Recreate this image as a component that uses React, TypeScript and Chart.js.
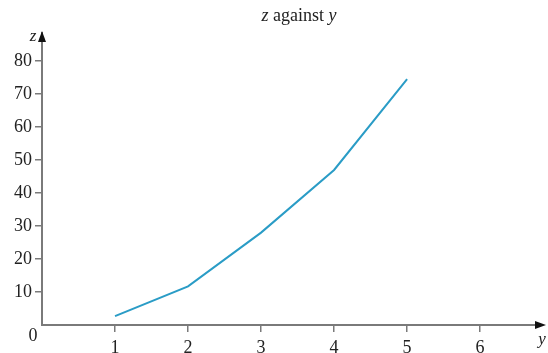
import React, { useEffect, useRef } from "react";
import { Chart, registerables } from "chart.js";

Chart.register(...registerables);

const yValues = [1, 2, 3, 4, 5];
const zValues = [2.7, 11.7, 28, 47, 74.5];
const xTickValues = [1, 2, 3, 4, 5, 6];
const yTickValues = [10, 20, 30, 40, 50, 60, 70, 80];
const titleParts = [
  { text: "z", italic: true },
  { text: " against ", italic: false },
  { text: "y", italic: true },
];

const AXIS_COLOR = "#7a7a7a";
const TEXT_COLOR = "#222";
const SERIF = "'Liberation Serif', 'DejaVu Serif', serif";
const TITLE_SIZE = 18;

const decorPlugin = {
  id: "decor",
  afterDraw(chart: any) {
    const ctx = chart.ctx as CanvasRenderingContext2D;
    const area = chart.chartArea;
    const xs = chart.scales.x;
    const ys = chart.scales.y;
    const x0 = xs.getPixelForValue(0);
    const y0 = ys.getPixelForValue(0);
    ctx.save();
    // title
    let total = 0;
    const widths = titleParts.map((p) => {
      ctx.font = `${p.italic ? "italic " : ""}${TITLE_SIZE}px ${SERIF}`;
      const w = ctx.measureText(p.text).width;
      total += w;
      return w;
    });
    let tx = 299 - total / 2;
    ctx.fillStyle = TEXT_COLOR;
    ctx.textBaseline = "middle";
    ctx.textAlign = "left";
    titleParts.forEach((p, i) => {
      ctx.font = `${p.italic ? "italic " : ""}${TITLE_SIZE}px ${SERIF}`;
      ctx.fillText(p.text, tx, 16);
      tx += widths[i];
    });
    // arrows
    ctx.fillStyle = "#111";
    ctx.beginPath();
    ctx.moveTo(x0, area.top - 2);
    ctx.lineTo(x0 - 4, area.top + 9);
    ctx.lineTo(x0 + 4, area.top + 9);
    ctx.closePath();
    ctx.fill();
    ctx.beginPath();
    ctx.moveTo(area.right + 6, y0);
    ctx.lineTo(area.right - 5, y0 - 4);
    ctx.lineTo(area.right - 5, y0 + 4);
    ctx.closePath();
    ctx.fill();
    // axis labels
    ctx.fillStyle = TEXT_COLOR;
    ctx.font = `italic 17px ${SERIF}`;
    ctx.textAlign = "center";
    ctx.fillText("z", x0 - 9, area.top + 4);
    ctx.fillText("y", area.right + 2, y0 + 15);
    ctx.font = `18px ${SERIF}`;
    ctx.fillText("0", x0 - 9, y0 + 11);
    ctx.restore();
  },
};

export default function App() {
  const ref = useRef<HTMLCanvasElement | null>(null);
  useEffect(() => {
    if (!ref.current) return;
    const chart = new Chart(ref.current, {
      type: "line",
      data: {
        datasets: [
          {
            data: yValues.map((v, i) => ({ x: v, y: zValues[i] })),
            borderColor: "#2a9cc6",
            borderWidth: 2,
            pointRadius: 0,
            tension: 0,
            fill: false,
          },
        ],
      },
      options: {
        animation: false,
        responsive: false,
        maintainAspectRatio: false,
        layout: { padding: { top: 33, right: 8, left: 0, bottom: 0 } },
        plugins: {
          legend: { display: false },
          title: { display: false },
          tooltip: { enabled: false },
        },
        scales: {
          x: {
            type: "linear",
            min: 0,
            max: 6.82,
            afterBuildTicks: (s: any) => {
              s.ticks = xTickValues.map((v) => ({ value: v }));
            },
            afterFit: (s: any) => {
              s.height = 28;
            },
            grid: {
              drawOnChartArea: false,
              drawTicks: true,
              tickLength: 7,
              color: AXIS_COLOR,
              lineWidth: 1.5,
            },
            border: { display: true, color: AXIS_COLOR, width: 2 },
            ticks: {
              color: TEXT_COLOR,
              font: { family: SERIF, size: 18 },
              padding: 5,
              maxRotation: 0,
              autoSkip: false,
            },
          },
          y: {
            type: "linear",
            min: 0,
            max: 88.5,
            afterBuildTicks: (s: any) => {
              s.ticks = yTickValues.map((v) => ({ value: v }));
            },
            afterFit: (s: any) => {
              s.width = 42;
            },
            grid: {
              drawOnChartArea: false,
              drawTicks: true,
              tickLength: 7,
              color: AXIS_COLOR,
              lineWidth: 1.5,
            },
            border: { display: true, color: AXIS_COLOR, width: 2 },
            ticks: {
              color: TEXT_COLOR,
              font: { family: SERIF, size: 18 },
              padding: 3,
              autoSkip: false,
            },
          },
        },
      },
      plugins: [decorPlugin],
    });
    return () => chart.destroy();
  }, []);
  return (
    <div style={{ position: "fixed", left: 0, top: 0, width: 548, height: 353, background: "#fff" }}>
      <canvas ref={ref} width={548} height={353} style={{ display: "block", width: 548, height: 353 }} />
    </div>
  );
}
